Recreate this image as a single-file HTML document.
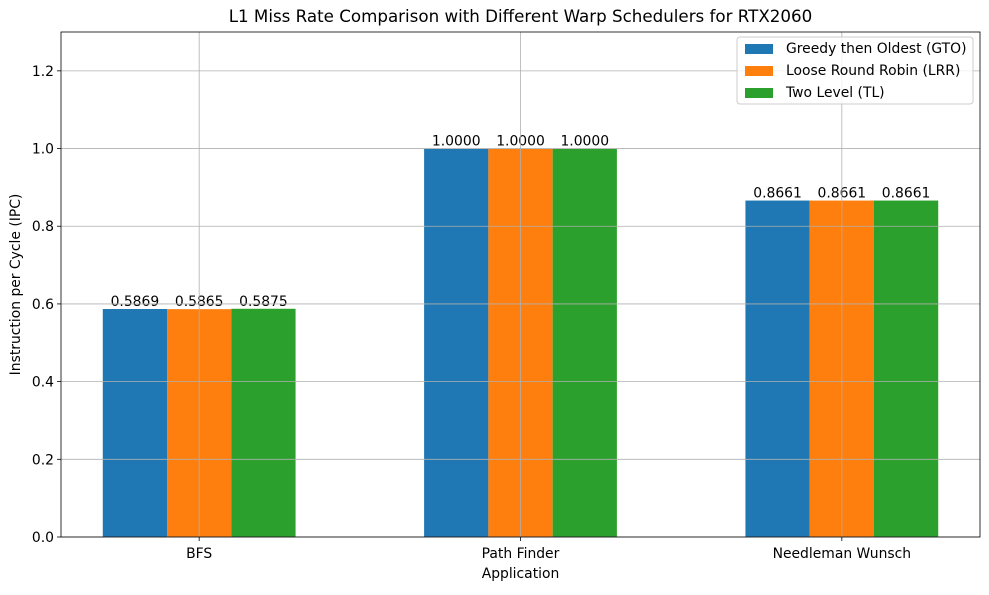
<!DOCTYPE html>
<html><head><meta charset="utf-8"><style>
body{margin:0;background:#fff;}
svg text{font-family:"DejaVu Sans","Liberation Sans",sans-serif;}
</style></head><body>
<svg id="chart" width="989" height="590" xmlns="http://www.w3.org/2000/svg"></svg>
<script>
const categories = ["BFS","Path Finder","Needleman Wunsch"];
const seriesNames = ["Greedy then Oldest (GTO)","Loose Round Robin (LRR)","Two Level (TL)"];
const gtoValues = [0.5869,1.0000,0.8661];
const lrrValues = [0.5865,1.0000,0.8661];
const tlValues = [0.5875,1.0000,0.8661];
const yTicks = [0.0,0.2,0.4,0.6,0.8,1.0,1.2];
const colors = ["#1f77b4","#ff7f0e","#2ca02c"];

const NS="http://www.w3.org/2000/svg";
const svg=document.getElementById('chart');
const L=61,R=980,T=32,B=537;
const xMin=-0.43,xMax=2.43,yMin=0,yMax=1.3;
const xs=v=>L+(v-xMin)/(xMax-xMin)*(R-L);
const ys=v=>B-(v-yMin)/(yMax-yMin)*(B-T);
function el(tag,attrs,parent){const e=document.createElementNS(NS,tag);for(const k in attrs)e.setAttribute(k,attrs[k]);(parent||svg).appendChild(e);return e;}
const FS=13.9;

const title=el('text',{x:(L+R)/2,y:22,'text-anchor':'middle','font-size':16.7});
title.textContent="L1 Miss Rate Comparison with Different Warp Schedulers for RTX2060";



const series=[gtoValues,lrrValues,tlValues];
const bw=0.2;
series.forEach((vals,s)=>{
  vals.forEach((v,i)=>{
    const c=i+(s-1)*bw;
    const r=el('rect',{x:xs(c-bw/2),y:ys(v),width:xs(c+bw/2)-xs(c-bw/2),height:ys(0)-ys(v),fill:colors[s]});
    
    
    const t=el('text',{x:xs(c),y:ys(v)-3,'text-anchor':'middle','font-size':FS});
    t.textContent=v.toFixed(4);
    
    
  });
});

yTicks.forEach(v=>{
  const g=el('line',{x1:L,x2:R,y1:ys(v),y2:ys(v),stroke:'#b0b0b0','stroke-width':0.8});
  
  
  el('line',{x1:L-4,x2:L,y1:ys(v),y2:ys(v),stroke:'#000','stroke-width':0.8});
  const t=el('text',{x:L-7,y:ys(v)+5,'text-anchor':'end','font-size':FS});
  t.textContent=v.toFixed(1);
  
  
});
categories.forEach((c,i)=>{
  const g=el('line',{x1:xs(i),x2:xs(i),y1:T,y2:B,stroke:'#b0b0b0','stroke-width':0.8});
  
  
  el('line',{x1:xs(i),x2:xs(i),y1:B,y2:B+4,stroke:'#000','stroke-width':0.8});
  const t=el('text',{x:xs(i),y:B+21,'text-anchor':'middle','font-size':FS});
  t.textContent=c;
  
  
});

const frame=el('rect',{x:L,y:T,width:R-L,height:B-T,fill:'none',stroke:'#000','stroke-width':0.8});



const xl=el('text',{x:(L+R)/2,y:578,'text-anchor':'middle','font-size':FS});
xl.textContent="Application";


const yl=el('text',{x:0,y:0,'text-anchor':'middle','font-size':FS,transform:`translate(20,${(T+B)/2}) rotate(-90)`});
yl.textContent="Instruction per Cycle (IPC)";



const lg=el('g',{});


el('rect',{x:737,y:37,width:236,height:67,fill:'#fff','fill-opacity':0.8,stroke:'#ccc',rx:3},lg);
seriesNames.forEach((n,s)=>{
  const y=48+s*22;
  el('rect',{x:745,y:y-4,width:28,height:10,fill:colors[s]},lg);
  const t=el('text',{x:786,y:y+5,'font-size':FS},lg);
  t.textContent=n;
  
  
});
</script>
</body></html>
